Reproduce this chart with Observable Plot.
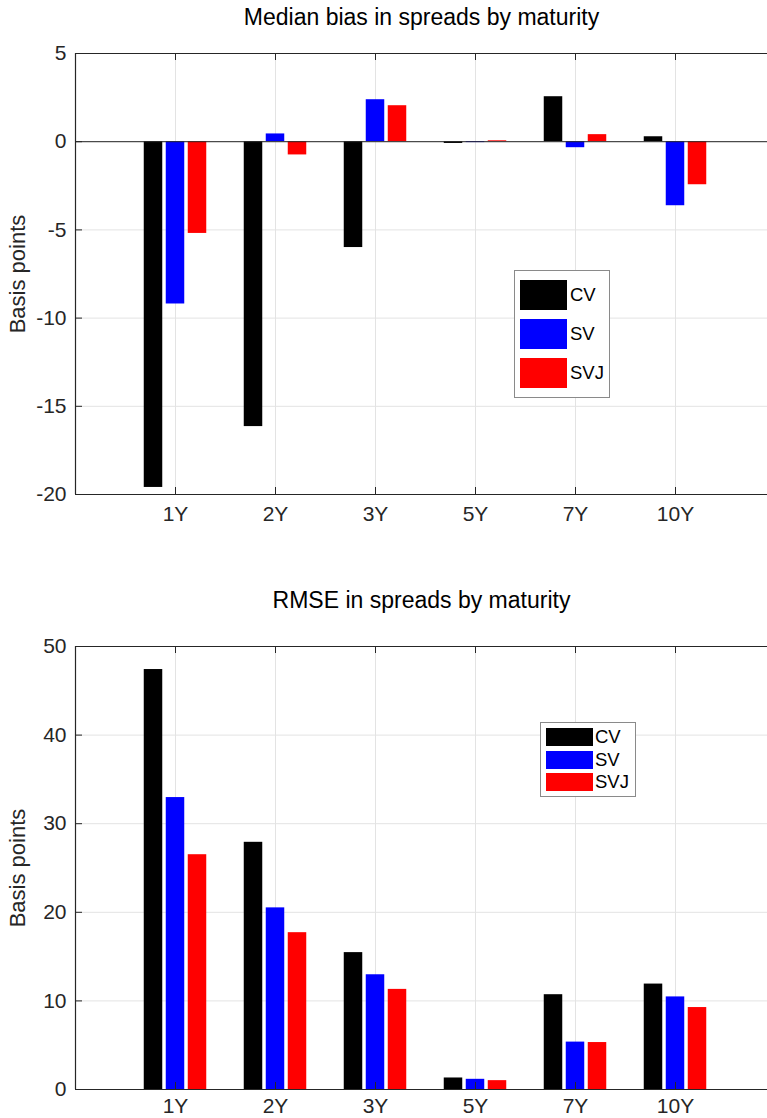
<!DOCTYPE html>
<html><head><meta charset="utf-8">
<script src="https://cdn.jsdelivr.net/npm/d3@7"></script>
<script src="https://cdn.jsdelivr.net/npm/@observablehq/plot@0.6"></script>
<style>
body{margin:0;background:#fff;}
#wrap{position:relative;width:767px;height:1118px;overflow:hidden;font-family:"Liberation Sans",Arial,Helvetica,sans-serif;}
#wrap svg{display:block;}
.legend{position:absolute;border:1px solid #8a8a8a;background:#fff;box-sizing:border-box;}
.sw{position:absolute;}
.lab{position:absolute;font-size:18.5px;color:#000;line-height:1;}
</style></head><body><div id="wrap"></div>
<script>
const maturities = ["1Y","2Y","3Y","5Y","7Y","10Y"];
const models = ["CV","SV","SVJ"];
const modelColors = ["#000000","#0000ff","#ff0000"];
const biasCV  = [-19.6, -16.15, -6.0, -0.1, 2.55, 0.28];
const biasSV  = [-9.2, 0.44, 2.38, -0.05, -0.34, -3.63];
const biasSVJ = [-5.2, -0.75, 2.04, 0.05, 0.4, -2.44];
const rmseCV  = [47.4, 27.9, 15.45, 1.3, 10.7, 11.9];
const rmseSV  = [32.95, 20.5, 12.95, 1.15, 5.35, 10.45];
const rmseSVJ = [26.5, 17.7, 11.3, 1.0, 5.3, 9.25];
const biasTicks = [-20, -15, -10, -5, 0, 5];
const rmseTicks = [0, 10, 20, 30, 40, 50];

const W = 767, ML = 75;
const xDomain = [0, 6.92];
const xTicks = maturities.map((d, i) => i + 1);
const groupStep = 0.22, barW = 0.185;
const gridColor = "#e3e3e3", axisColor = "#262626";

function rowsOf(series) {
  const out = [];
  series.forEach((vals, j) => vals.forEach((v, i) => out.push({pos: i + 1, j, model: models[j], value: v})));
  return out;
}

function panel({title, series, yDomain, yTicks, H, MT, MB, tickPad, titleDy, zero}) {
  const rows = rowsOf(series);
  const innerH = H - MT - MB, innerW = W - ML;
  return Plot.plot({
    width: W, height: H,
    marginLeft: ML, marginRight: 0, marginTop: MT, marginBottom: MB,
    style: {fontFamily: '"Liberation Sans",Arial,Helvetica,sans-serif', fontSize: "21px", color: axisColor, background: "#fff"},
    x: {type: "linear", domain: xDomain},
    y: {domain: yDomain},
    color: {domain: models, range: modelColors},
    marks: [
      Plot.ruleX(xTicks, {x: d => d, stroke: gridColor, strokeWidth: 1}),
      Plot.ruleY(yTicks, {y: d => d, stroke: gridColor, strokeWidth: 1}),
      Plot.rectY(rows, {
        x1: d => d.pos + (d.j - 1) * groupStep - barW / 2,
        x2: d => d.pos + (d.j - 1) * groupStep + barW / 2,
        y1: 0, y2: "value", fill: "model"
      }),
      zero ? Plot.ruleY([0], {stroke: axisColor, strokeWidth: 1}) : null,
      Plot.ruleY([yDomain[1]], {stroke: axisColor, strokeWidth: 1.2}),
      Plot.ruleY([yDomain[0]], {stroke: axisColor, strokeWidth: 1.2}),
      Plot.ruleX([xDomain[0]], {stroke: axisColor, strokeWidth: 1.2}),
      Plot.tickX(xTicks, {x: d => d, stroke: axisColor, insetBottom: innerH - 7}),
      Plot.tickX(xTicks, {x: d => d, stroke: axisColor, insetTop: innerH - 7}),
      Plot.tickY(yTicks, {y: d => d, stroke: axisColor, insetRight: innerW - 7}),
      Plot.axisX({ticks: xTicks, tickFormat: d => maturities[d - 1], tickSize: 0, tickPadding: tickPad, label: null, fontSize: 21}),
      Plot.axisY({ticks: yTicks, tickFormat: d => String(d), tickSize: 0, tickPadding: 9, label: null, fontSize: 21}),
      Plot.text(["Basis points"], {frameAnchor: "left", rotate: -90, dx: -58, fontSize: 22, fill: axisColor, textAnchor: "middle"}),
      Plot.text([title], {frameAnchor: "top", dy: titleDy, fontSize: 23, fill: "#000", textAnchor: "middle", lineAnchor: "middle"})
    ]
  });
}

const wrap = document.getElementById("wrap");
wrap.append(panel({
  title: "Median bias in spreads by maturity",
  series: [biasCV, biasSV, biasSVJ], yDomain: [-20, 5], yTicks: biasTicks,
  H: 559, MT: 53, MB: 65, tickPad: 12, titleDy: -36, zero: true
}));
wrap.append(panel({
  title: "RMSE in spreads by maturity",
  series: [rmseCV, rmseSV, rmseSVJ], yDomain: [0, 50], yTicks: rmseTicks,
  H: 559, MT: 87, MB: 29, tickPad: 9, titleDy: -46, zero: false
}));

function legend({left, top, w, h, swLeft, swW, swH, swTops, labLeft}) {
  const box = document.createElement("div");
  box.className = "legend";
  Object.assign(box.style, {left: left + "px", top: top + "px", width: w + "px", height: h + "px"});
  models.forEach((m, j) => {
    const sw = document.createElement("div");
    sw.className = "sw";
    Object.assign(sw.style, {left: swLeft + "px", top: swTops[j] + "px", width: swW + "px", height: swH + "px", background: modelColors[j]});
    const lab = document.createElement("div");
    lab.className = "lab";
    lab.textContent = m;
    Object.assign(lab.style, {left: labLeft + "px", top: (swTops[j] + swH / 2 - 9) + "px"});
    box.append(sw, lab);
  });
  wrap.append(box);
}
legend({left: 514, top: 270, w: 96, h: 128, swLeft: 5, swW: 47, swH: 30, swTops: [9, 48, 87], labLeft: 55});
legend({left: 540, top: 722, w: 96, h: 75, swLeft: 5, swW: 47, swH: 18, swTops: [5, 28, 50], labLeft: 54});
</script></body></html>
